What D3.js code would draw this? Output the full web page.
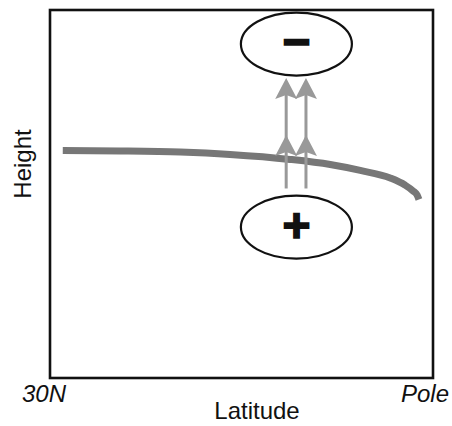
<!DOCTYPE html>
<html>
<head>
<meta charset="utf-8">
<script src="https://cdn.jsdelivr.net/npm/d3@7"></script>
<style>
  html, body { margin: 0; padding: 0; background: #fff; }
  svg { display: block; }
  text { font-family: "Liberation Sans", Arial, Helvetica, sans-serif; fill: #111; }
</style>
</head>
<body>
<svg id="chart" width="452" height="426"></svg>
<script>
// ---- data ----
const latitude        = [32.0, 41.0, 50.4, 58.2, 67.6, 73.9, 78.6, 83.3, 85.6, 86.9, 87.5, 87.8];
const tropopauseHeight = [12.36, 12.34, 12.28, 12.15, 11.88, 11.60, 11.28, 10.87, 10.49, 10.16, 9.95, 9.70];

const xTickValues = [30, 90];
const xTickLabels = ["30N", "Pole"];

const arrowLat     = [67.0, 70.1];
const arrowBase    = 10.3;
const arrowHeadTip = [13.2, 16.3];

const anomalySigns  = ["\u2212", "+"];
const anomalyLat    = [68.6, 68.6];
const anomalyHeight = [18.15, 8.2];

// ---- layout ----
const svg = d3.select("#chart");
const x = d3.scaleLinear().domain([30, 90]).range([50, 433]);
const y = d3.scaleLinear().domain([0, 20]).range([378, 10]);

// frame
svg.append("rect")
  .attr("x", x(30)).attr("y", y(20))
  .attr("width", x(90) - x(30)).attr("height", y(0) - y(20))
  .attr("fill", "none").attr("stroke", "#111").attr("stroke-width", 2.6);

// tropopause curve
const pts = latitude.map((d, i) => [d, tropopauseHeight[i]]);
svg.append("path")
  .datum(pts)
  .attr("d", d3.line().x(d => x(d[0])).y(d => y(d[1])).curve(d3.curveMonotoneX))
  .attr("fill", "none").attr("stroke", "#777").attr("stroke-width", 7)
  .attr("stroke-linecap", "butt");

// arrows
const arrowColor = "#999";
const headPath = "M0,0 L11,21 L0,17 L-11,21 Z";
arrowLat.forEach(lat => {
  svg.append("line")
    .attr("x1", x(lat)).attr("x2", x(lat))
    .attr("y1", y(arrowBase)).attr("y2", y(d3.max(arrowHeadTip)) + 10)
    .attr("stroke", arrowColor).attr("stroke-width", 3);
  arrowHeadTip.forEach(h => {
    svg.append("path")
      .attr("d", headPath)
      .attr("transform", `translate(${x(lat)},${y(h)})`)
      .attr("fill", arrowColor);
  });
});

// anomaly ellipses
anomalySigns.forEach((s, i) => {
  const cx = x(anomalyLat[i]), cy = y(anomalyHeight[i]);
  svg.append("ellipse")
    .attr("cx", cx).attr("cy", cy).attr("rx", 55.5).attr("ry", 31.5)
    .attr("fill", "#fff").attr("stroke", "#111").attr("stroke-width", 2.2);
  svg.append("text")
    .attr("x", cx).attr("y", cy)
    .attr("dy", "0.3em")
    .attr("text-anchor", "middle")
    .style("font-size", "48px").style("font-weight", "bold")
    .style("stroke", "#111").style("stroke-width", 1.6)
    .text(s);
});

// x tick labels
xTickValues.forEach((v, i) => {
  svg.append("text")
    .attr("x", x(v) + (i === 0 ? -6 : -8)).attr("y", 402)
    .attr("text-anchor", "middle")
    .style("font-size", "24px").style("font-style", "italic")
    .text(xTickLabels[i]);
});

// axis titles
svg.append("text")
  .attr("x", 257).attr("y", 419)
  .attr("text-anchor", "middle")
  .style("font-size", "24px")
  .text("Latitude");

svg.append("text")
  .attr("transform", "translate(31,164) rotate(-90)")
  .attr("text-anchor", "middle")
  .style("font-size", "24px")
  .text("Height");
</script>
</body>
</html>
